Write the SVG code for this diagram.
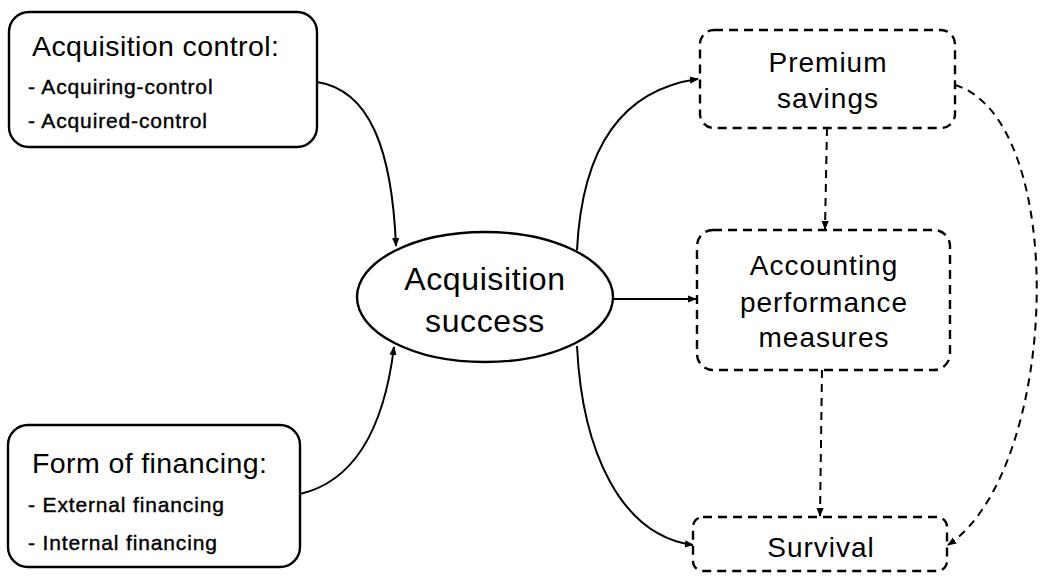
<svg xmlns="http://www.w3.org/2000/svg" width="1045" height="576" viewBox="0 0 1045 576">
<defs>
<style>
.box{fill:#fff;stroke:#000;stroke-width:2.4}
.dbox{fill:#fff;stroke:#000;stroke-width:2.4;stroke-dasharray:9 6}
.t{font-family:"Liberation Sans",Arial,Helvetica,sans-serif;fill:#000}
.h{font-size:28.5px;letter-spacing:0.4px}
.s{font-size:21px;letter-spacing:0.85px;stroke:#000;stroke-width:0.4}
.e{font-size:32px;letter-spacing:0.6px;text-anchor:middle}
.r{font-size:28px;letter-spacing:1px;text-anchor:middle}
.c{fill:none;stroke:#000;stroke-width:2}
.dc{fill:none;stroke:#000;stroke-width:2;stroke-dasharray:8 6}
</style>
<marker id="ah" viewBox="0 0 10 10" refX="9" refY="5" markerWidth="9" markerHeight="9" markerUnits="userSpaceOnUse" orient="auto">
<path d="M0,1 L10,5 L0,9 z" fill="#000"/>
</marker>
</defs>
<rect width="1045" height="576" fill="#fff"/>
<g id="connectors">
<path class="c" d="M317,82 C370,90 392,150 396,246" marker-end="url(#ah)"/>
<path class="c" d="M300,494 C360,480 385,420 394,347" marker-end="url(#ah)"/>
<path class="c" d="M577,250 C582,150 620,90 698,79" marker-end="url(#ah)"/>
<path class="c" d="M613,299 L696,299" marker-end="url(#ah)"/>
<path class="c" d="M577,346 C582,450 620,535 693,545" marker-end="url(#ah)"/>
<path class="dc" d="M827,128 L825,229" marker-end="url(#ah)"/>
<path class="dc" d="M822,370 L820,516" marker-end="url(#ah)"/>
<path class="dc" d="M955,85 C1070,120 1060,470 948,545" marker-end="url(#ah)"/>
</g>
<g id="acq-control">
<rect class="box" x="9" y="12" width="308" height="135" rx="20"/>
<text class="t h" x="32" y="56">Acquisition control:</text>
<text class="t s" x="28" y="94">- Acquiring-control</text>
<text class="t s" x="28" y="128">- Acquired-control</text>
</g>
<g id="financing">
<rect class="box" x="8" y="425" width="292" height="142" rx="20"/>
<text class="t h" x="32" y="473">Form of financing:</text>
<text class="t s" x="28" y="512">- External financing</text>
<text class="t s" x="28" y="550">- Internal financing</text>
</g>
<g id="success">
<ellipse class="box" cx="485" cy="297" rx="128" ry="65"/>
<text class="t e" x="485" y="290">Acquisition</text>
<text class="t e" x="485" y="332">success</text>
</g>
<g id="premium">
<rect class="dbox" x="700" y="30" width="255" height="98" rx="14"/>
<text class="t r" x="828" y="72">Premium</text>
<text class="t r" x="828" y="108">savings</text>
</g>
<g id="accounting">
<rect class="dbox" x="697" y="230" width="253" height="140" rx="16"/>
<text class="t r" x="824" y="275">Accounting</text>
<text class="t r" x="824" y="312">performance</text>
<text class="t r" x="824" y="347">measures</text>
</g>
<g id="survival">
<rect class="dbox" x="693" y="517" width="254" height="54" rx="10"/>
<text class="t r" x="821" y="557">Survival</text>
</g>
</svg>
